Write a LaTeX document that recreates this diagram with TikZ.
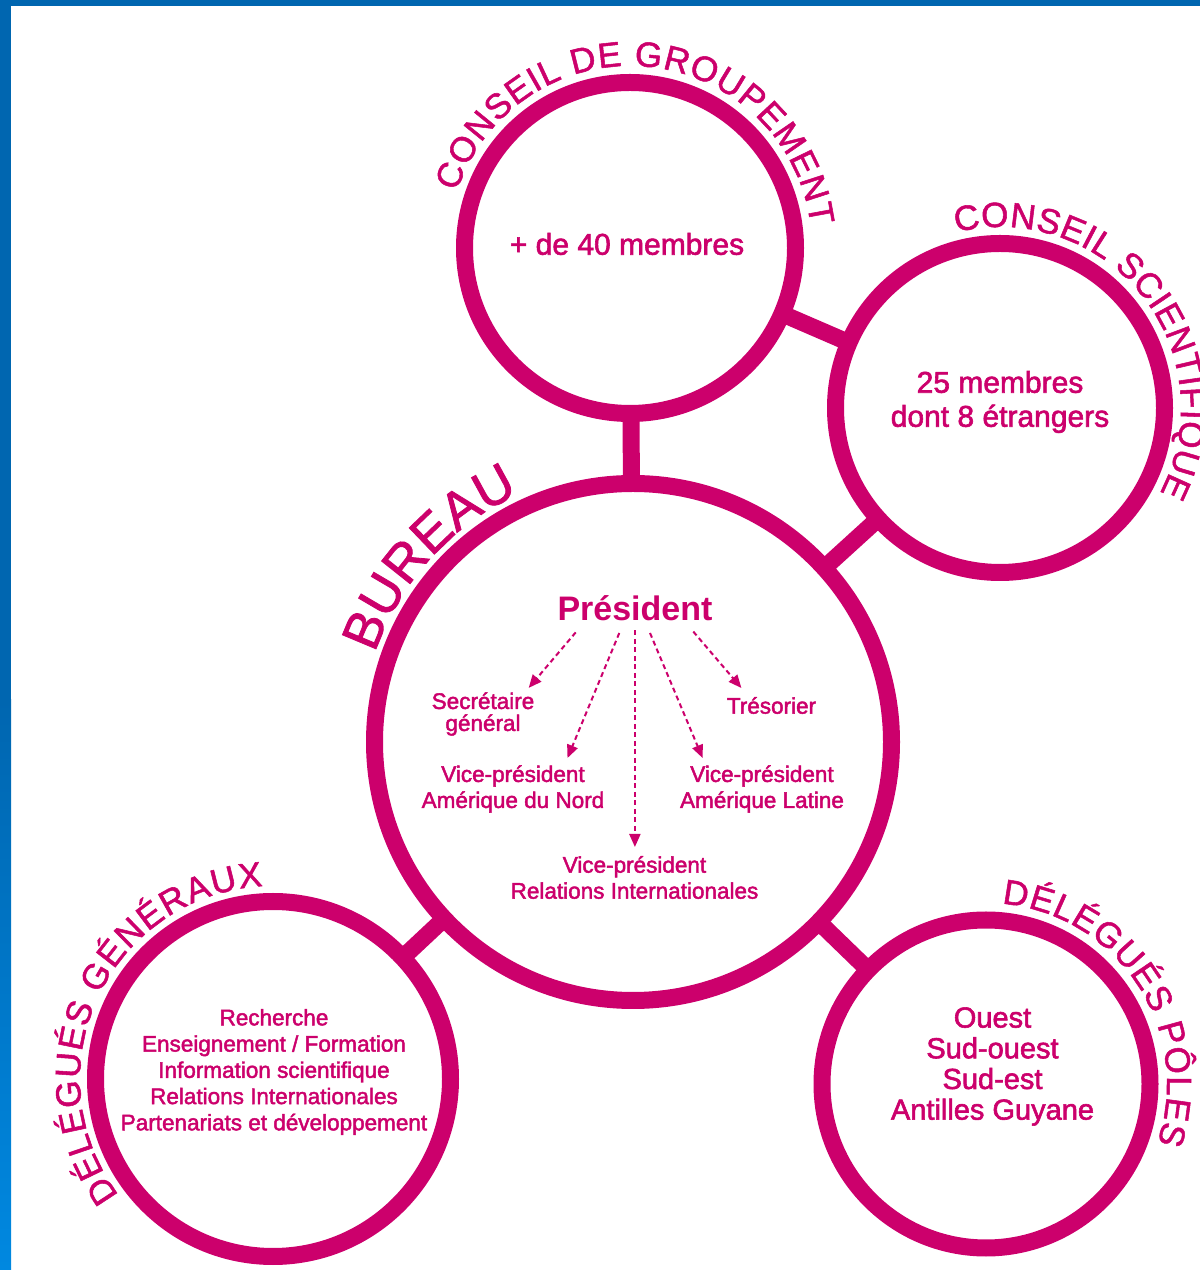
\documentclass[tikz,border=0pt]{standalone}
\usepackage{fontspec}
\setmainfont{Liberation Sans}
\newfontfamily\medfont{Liberation Sans}[FakeBold=2]
\newfontfamily\arcfam{Liberation Sans}[FakeBold=1.5]
\usetikzlibrary{decorations.text,arrows.meta,backgrounds}
\definecolor{mag}{RGB}{204,0,108}
\definecolor{bluedark}{RGB}{0,102,176}
\definecolor{bluelight}{RGB}{0,136,224}
\newcommand\arcfont{\arcfam\fontsize{35}{35}\selectfont\color{mag}}
\newcommand\arcfontbig{\arcfam\fontsize{53}{53}\selectfont\color{mag}}
\begin{document}
\begin{tikzpicture}[x=1pt,y=1pt,
  ring/.style={circle, draw=mag, fill=white, line width=17pt, inner sep=0pt, outer sep=0pt},
  link/.style={draw=mag, line width=17pt},
  bigtxt/.style={text=mag, align=center, inner sep=0pt, font=\medfont\fontsize{30}{34}\selectfont},
  poletxt/.style={text=mag, align=center, inner sep=0pt, font=\medfont\fontsize{29}{30.7}\selectfont},
  smalltxt/.style={text=mag, align=center, inner sep=0pt, font=\medfont\fontsize{22.5}{26.25}\selectfont},
  subtxt/.style={text=mag, align=center, inner sep=0pt, font=\medfont\fontsize{22.5}{26}\selectfont},
  prestxt/.style={text=mag, inner sep=0pt, font=\bfseries\fontsize{34}{34}\selectfont},
  dasharrow/.style={draw=mag, line width=2pt, dash pattern=on 5pt off 3.5pt, -{Triangle[length=13pt,width=11pt]}}
]
\useasboundingbox (0,0) rectangle (1200,1270);
% frame
\fill[bluedark] (0,570) rectangle (11,1270);
\shade[bottom color=bluelight, top color=bluedark] (0,0) rectangle (11,570.5);
\fill[bluedark] (0,1264) rectangle (1200,1270);

% circles
\node[ring, minimum size=331pt] (cg) at (630,1022) {};
\node[ring, minimum size=329pt] (cs) at (1000,862) {};
\node[ring, minimum size=517pt] (bur) at (633,528) {};
\node[ring, minimum size=355pt] (dg) at (273,191) {};
\node[ring, minimum size=328pt] (dp) at (986,186) {};

% connectors
\begin{scope}[on background layer]
\draw[link] (cg.center) -- (bur.center);
\draw[link] (cg.center) -- (cs.center);
\draw[link] (cs.center) -- (bur.center);
\draw[link] (bur.center) -- (dg.center);
\draw[link] (bur.center) -- (dp.center);
\end{scope}

% curved titles
\path[decorate, decoration={text along path, text align={fit to path}, text={|\arcfont|CONSEIL DE GROUPEMENT}}]
  (cg.center) ++(162:182) arc[start angle=162, end angle=7, radius=182];
\path[decorate, decoration={text along path, text align={fit to path}, text={|\arcfont|CONSEIL SCIENTIFIQUE}}]
  (cs.center) ++(104:181) arc[start angle=104, end angle=-28, radius=181];
\path[decorate, decoration={text along path, text align={fit to path}, text={|\arcfontbig|BUREAU}}]
  (bur.center) ++(161:273) arc[start angle=161, end angle=116.5, radius=273];
\path[decorate, decoration={text along path, text align={fit to path}, text={|\arcfont|DÉLÉGUÉS GÉNÉRAUX}}]
  (dg.center) ++(217:193) arc[start angle=217, end angle=93, radius=193];
\path[decorate, decoration={text along path, text align={fit to path}, text={|\arcfont|DÉLÉGUÉS PÔLES}}]
  (dp.center) ++(85:181) arc[start angle=85, end angle=-19, radius=181];

% inner texts
\node[bigtxt] (cgt) at (627,1026) {+ de 40 membres};
\node[bigtxt] (cst) at (1000,868) {25 membres\\dont 8 étrangers};
\node[poletxt] (dpt) at (992.5,203.5) {Ouest\\Sud-ouest\\Sud-est\\Antilles Guyane};
\node[smalltxt] (dgt) at (274,198) {Recherche\\Enseignement / Formation\\Information scientifique\\Relations Internationales\\Partenariats et développement};

% bureau
\node[prestxt] (pres) at (635,662) {Président};
\node[subtxt, font=\medfont\fontsize{22.5}{22}\selectfont] (sec) at (483,556) {Secrétaire\\général};
\node[subtxt] (tres) at (771.5,564.5) {Trésorier};
\node[subtxt] (vpn) at (513,481) {Vice-président\\Amérique du Nord};
\node[subtxt] (vpl) at (762,481) {Vice-président\\Amérique Latine};
\node[subtxt] (vpr) at (634.5,392.5) {Vice-président\\Relations Internationales};

\coordinate (s1) at (575.7,637.6);
\coordinate (s2) at (619.3,637);
\coordinate (s3) at (634.9,639.5);
\coordinate (s4) at (650,637);
\coordinate (s5) at (693.3,638.4);
\coordinate (e1) at (528.7,582.1);
\coordinate (e2) at (567.5,512);
\coordinate (e3) at (634.9,423);
\coordinate (e4) at (702.6,512);
\coordinate (e5) at (741.4,582);
\draw[dasharrow] (s1) -- (e1);
\draw[dasharrow] (s2) -- (e2);
\draw[dasharrow] (s3) -- (e3);
\draw[dasharrow] (s4) -- (e4);
\draw[dasharrow] (s5) -- (e5);
\end{tikzpicture}
\end{document}
